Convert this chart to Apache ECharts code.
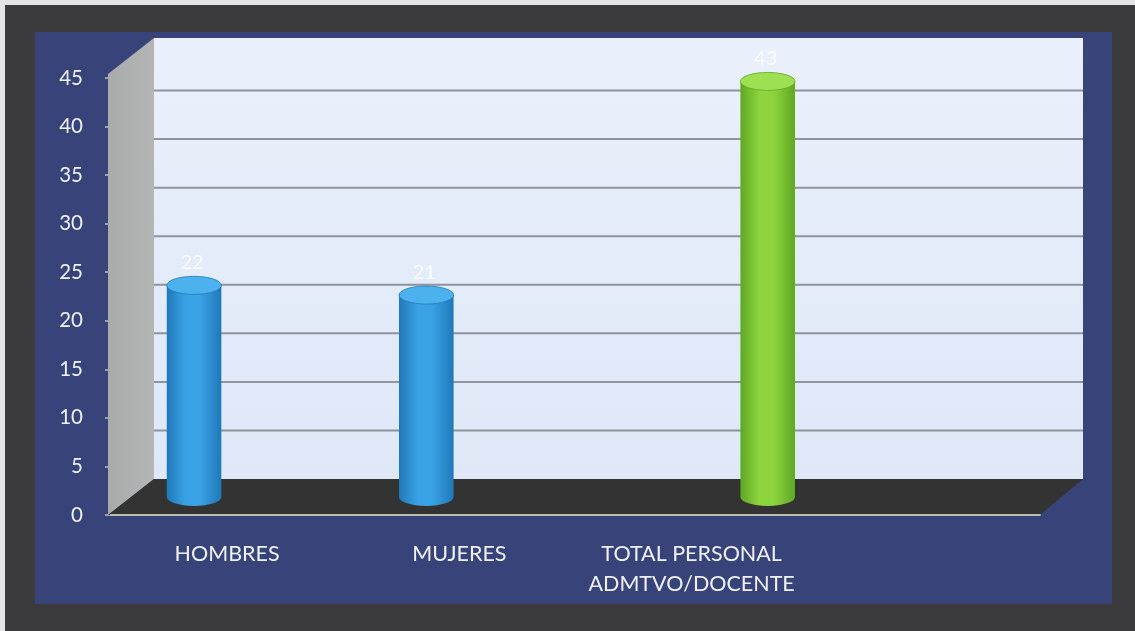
<!DOCTYPE html>
<html><head><meta charset="utf-8">
<script src="https://cdn.jsdelivr.net/npm/echarts@6/dist/echarts.min.js"></script>
<style>html,body{margin:0;padding:0;background:#3b3b3d}#c{width:1135px;height:631px}</style>
</head><body><div id="c"></div>
<script>
// ---- data ----
const categories = ['HOMBRES', 'MUJERES', 'TOTAL PERSONAL\nADMTVO/DOCENTE', ''];
const seriesBlue = [22, 21, null, null];   // front-left slot
const seriesGreen = [null, null, 43, null]; // right slot
const yMin = 0, yMax = 45, yStep = 5;

// ---- style constants ----
const DX = 43, DY = -36;          // 3D depth offset
const FONT = 'Lato, "Open Sans", sans-serif';

const chart = echarts.init(document.getElementById('c'), null, {renderer: 'canvas'});

function toPairs(arr) {
  const out = [];
  arr.forEach((v, i) => { if (v != null) out.push([i, v]); });
  return out;
}

function wallsRender(params, api) {
  const cs = params.coordSys;
  const gx = cs.x, gy = cs.y, gw = cs.width, gh = cs.height;
  const children = [];
  children.push({
    type: 'rect',
    shape: {x: gx + DX, y: gy + DY - 4, width: gw, height: gh + 4},
    style: {fill: {type: 'linear', x: 0, y: 0, x2: 0, y2: 1,
      colorStops: [{offset: 0, color: '#eaf0fb'}, {offset: 1, color: '#dee8f7'}]}}
  });
  for (let v = yMin + yStep; v < yMax; v += yStep) {
    const y = api.coord([0, v])[1] + DY;
    children.push({
      type: 'line',
      shape: {x1: gx + DX, y1: y, x2: gx + gw + DX, y2: y},
      style: {stroke: '#8e939c', lineWidth: 2}
    });
  }
  children.push({
    type: 'polygon',
    shape: {points: [[gx - 3, gy - 4], [gx + DX, gy + DY - 4], [gx + DX, gy + gh + DY], [gx - 3, gy + gh]]},
    style: {fill: {type: 'linear', x: 0, y: 0, x2: 1, y2: 0,
      colorStops: [{offset: 0, color: '#a9abaa'}, {offset: 1, color: '#b4b6b5'}]}}
  });
  children.push({
    type: 'polygon',
    shape: {points: [[gx - 3, gy + gh], [gx + gw, gy + gh], [gx + gw + DX, gy + gh + DY], [gx + DX, gy + gh + DY]]},
    style: {fill: '#333333'}
  });
  return {type: 'group', children: children};
}

function cylinderRender(slot, c) {
  return function (params, api) {
    const idx = api.value(0), val = api.value(1);
    const band = api.size([1, 0])[0];
    const w = band * 0.235;
    const top = api.coord([idx, val]);
    const base = api.coord([idx, 0]);
    const cx = top[0] + slot * w + DX / 2;
    const yT = top[1] + DY / 2 + 2, yB = base[1] + DY / 2;
    const r = w / 2, ry = 9;
    const body = 'M' + (cx - r) + ' ' + yT + ' L' + (cx - r) + ' ' + yB +
      ' A' + r + ' ' + ry + ' 0 0 0 ' + (cx + r) + ' ' + yB +
      ' L' + (cx + r) + ' ' + yT + ' Z';
    const cap = 'M' + (cx - r) + ' ' + yT +
      ' A' + r + ' ' + ry + ' 0 1 0 ' + (cx + r) + ' ' + yT +
      ' A' + r + ' ' + ry + ' 0 1 0 ' + (cx - r) + ' ' + yT + ' Z';
    return {
      type: 'group',
      children: [
        {type: 'path', shape: {pathData: body},
          style: {fill: {type: 'linear', x: 0, y: 0, x2: 1, y2: 0, colorStops: [
            {offset: 0, color: c.edge}, {offset: 0.35, color: c.mid},
            {offset: 0.6, color: c.mid}, {offset: 1, color: c.edge}]}}},
        {type: 'path', shape: {pathData: cap},
          style: {fill: c.top, stroke: c.edge, lineWidth: 0.8}},
        {type: 'text', style: {text: String(val), x: cx - 2, y: yT - ry - 14,
          align: 'center', verticalAlign: 'middle', fill: 'rgba(250,252,255,0.92)',
          fontSize: 20, fontFamily: FONT}}
      ]
    };
  };
}

const option = {
  backgroundColor: '#3b3b3d',
  animation: false,
  graphic: [
    {type: 'rect', left: 0, top: 0, shape: {width: 1135, height: 5}, style: {fill: '#e4e4e4'}, z: -10},
    {type: 'rect', left: 0, top: 0, shape: {width: 5, height: 631}, style: {fill: '#e4e4e4'}, z: -10},
    {type: 'rect', left: 35, top: 32, shape: {width: 1077, height: 572}, style: {fill: '#38437a'}, z: -10}
  ],
  grid: {left: 111, right: 95, top: 78, bottom: 116},
  xAxis: {
    type: 'category', data: categories, z: 10,
    axisLine: {lineStyle: {color: '#b9c0b3', width: 2}},
    axisTick: {length: 7, lineStyle: {color: '#b9c0b3', width: 2}},
    axisLabel: {color: '#eef1f8', fontSize: 21.5, fontFamily: FONT, margin: 24, lineHeight: 30, interval: 0},
    splitLine: {show: false}
  },
  yAxis: {
    type: 'value', min: yMin, max: yMax, interval: yStep,
    axisLine: {show: false},
    axisTick: {show: true, length: 6, lineStyle: {color: '#9aa0a8', width: 2}},
    axisLabel: {color: '#eef1f8', fontSize: 20.5, fontFamily: FONT, margin: 28},
    splitLine: {show: false}
  },
  series: [
    {type: 'custom', name: 'walls', silent: true, z: 1, data: [[0, 0]],
      renderItem: wallsRender, encode: {x: 0, y: 1}},
    {type: 'custom', name: 'blue', z: 3, data: toPairs(seriesBlue),
      renderItem: cylinderRender(-1, {edge: '#2078b8', mid: '#3aa3e6', top: '#4cb2ee'}), encode: {x: 0, y: 1}},
    {type: 'custom', name: 'green', z: 3, data: toPairs(seriesGreen),
      renderItem: cylinderRender(1, {edge: '#5ea824', mid: '#8ed43e', top: '#9ee052'}), encode: {x: 0, y: 1}}
  ]
};
chart.setOption(option);
</script></body></html>
